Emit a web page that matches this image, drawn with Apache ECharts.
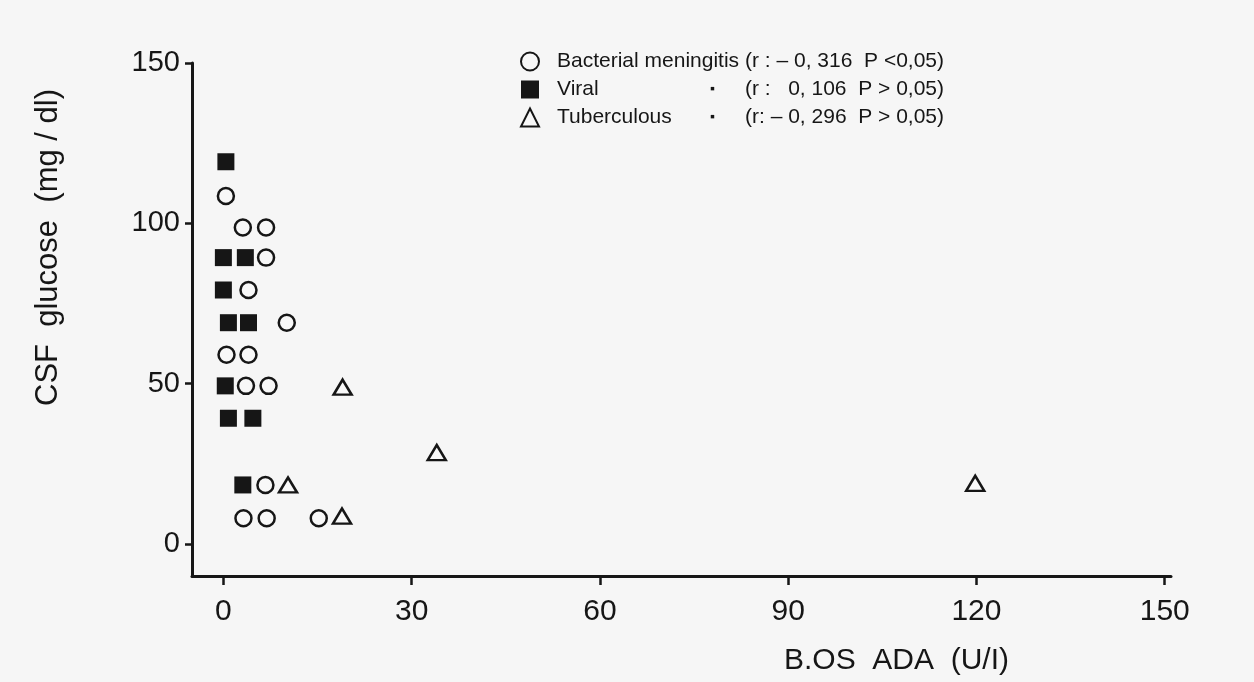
<!DOCTYPE html>
<html><head><meta charset="utf-8">
<script src="https://cdn.jsdelivr.net/npm/echarts@6/dist/echarts.min.js"></script>
<style>html,body{margin:0;padding:0;background:#f6f6f6}#c{width:1254px;height:682px}</style>
</head><body><div id="c"></div>
<script>
const seriesNames = ['Bacterial meningitis', 'Viral', 'Tuberculous'];
const correlations = ['(r : – 0, 316  P <0,05)', '(r :   0, 106  P > 0,05)', '(r: – 0, 296  P > 0,05)'];
const xTicks = [0, 30, 60, 90, 120, 150];
const yTicks = [0, 50, 100, 150];
const xTitle = 'B.OS  ADA  (U/I)';
const yTitle = 'CSF  glucose  (mg / dl)';
// [ADA (U/l), glucose (mg/dl)]
const bacterial = [[0.4,108.5],[3.1,98.7],[6.8,98.7],[6.8,89.3],[4.0,79.2],[10.1,69.0],[0.5,59.0],[4.0,59.0],[3.6,49.3],[7.2,49.3],[6.7,18.4],[3.2,8.0],[6.9,8.0],[15.2,8.0]];
const viral = [[0.4,119.2],[0.0,89.3],[3.5,89.3],[0.0,79.2],[0.8,69.0],[4.0,69.0],[0.3,49.3],[0.8,39.2],[4.7,39.2],[3.1,18.4]];
const tuberculous = [[19.0,48.9],[34.0,28.5],[10.3,18.4],[18.9,8.7],[119.8,18.9]];

const FONT = '"Liberation Sans", Arial, Helvetica, sans-serif';
const ink = '#161616';
const chart = echarts.init(document.getElementById('c'), null, {renderer: 'canvas'});
chart.setOption({
  backgroundColor: '#f6f6f6',
  animation: false,
  grid: {left: 192, top: 63, width: 979, height: 513, containLabel: false},
  xAxis: {
    type: 'value', min: -5, max: 151,
    name: xTitle, nameLocation: 'middle', nameGap: 70,
    nameTextStyle: {fontFamily: FONT, fontSize: 30, color: ink, padding: [0, 0, 0, 430]},
    axisLine: {onZero: false, lineStyle: {color: ink, width: 3}},
    axisTick: {show: true, customValues: xTicks, length: 9, lineStyle: {color: ink, width: 2.5}},
    axisLabel: {customValues: xTicks, fontFamily: FONT, fontSize: 30, color: ink, margin: 21},
    splitLine: {show: false}
  },
  yAxis: {
    type: 'value', min: -10, max: 150,
    name: yTitle, nameLocation: 'middle', nameGap: 128, nameRotate: 90,
    nameTextStyle: {fontFamily: FONT, fontSize: 31, color: ink, padding: [0, 0, 0, 144]},
    axisLine: {show: true, onZero: false, lineStyle: {color: ink, width: 3}},
    axisTick: {show: true, customValues: yTicks, length: 7, lineStyle: {color: ink, width: 2.5}},
    axisLabel: {customValues: yTicks, fontFamily: FONT, fontSize: 29, color: ink, margin: 12},
    splitLine: {show: false}
  },
  legend: {
    orient: 'vertical', left: 515, top: 46,
    itemWidth: 18, itemHeight: 18, itemGap: 7,
    data: seriesNames,
    formatter: function (name) {
      const i = seriesNames.indexOf(name);
      if (i === 0) return '{a|' + name + '}{r|' + correlations[0] + '}';
      return '{n|' + name + '}{d|▪}{r|' + correlations[i] + '}';
    },
    textStyle: {
      fontFamily: FONT, fontSize: 21, color: ink, lineHeight: 20,
      rich: {
        a: {fontFamily: FONT, fontSize: 21, color: ink, lineHeight: 20, width: 188, padding: [0, 0, 0, 13]},
        n: {fontFamily: FONT, fontSize: 21, color: ink, lineHeight: 20, width: 153, padding: [0, 0, 0, 13]},
        d: {fontFamily: FONT, fontSize: 14, color: ink, lineHeight: 20, width: 35},
        r: {fontFamily: FONT, fontSize: 21, color: ink, lineHeight: 20}
      }
    }
  },
  series: [
    {name: seriesNames[0], type: 'scatter', data: bacterial, symbol: 'circle', symbolSize: 16,
     itemStyle: {color: '#f8f8f8', borderColor: ink, borderWidth: 2.5, opacity: 1}},
    {name: seriesNames[1], type: 'scatter', data: viral, symbol: 'rect', symbolSize: 17,
     itemStyle: {color: ink, borderWidth: 0, opacity: 1}},
    {name: seriesNames[2], type: 'scatter', data: tuberculous, symbol: 'triangle', symbolSize: [18, 15],
     itemStyle: {color: '#f8f8f8', borderColor: ink, borderWidth: 2.5, opacity: 1}}
  ]
});
</script></body></html>
